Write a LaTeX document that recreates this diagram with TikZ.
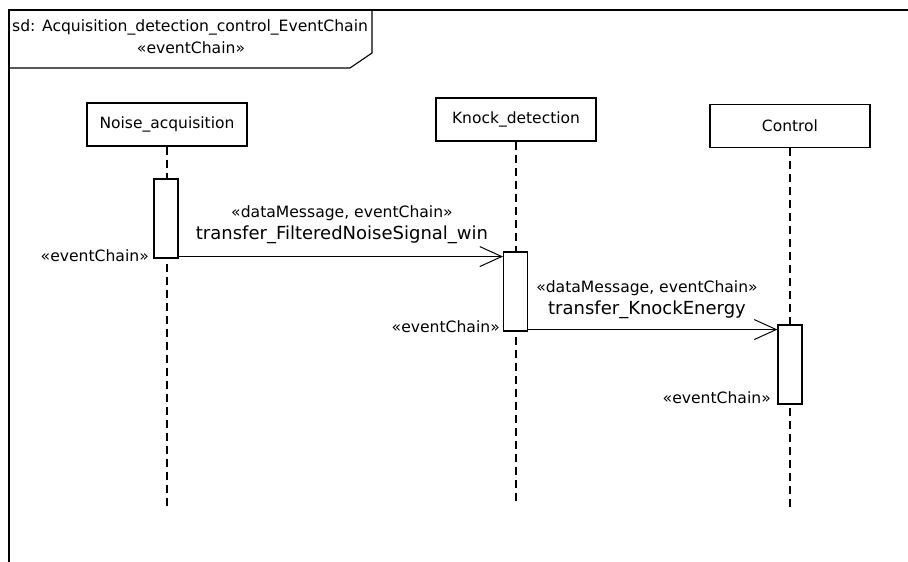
\documentclass[tikz,border=0pt]{standalone}
\usepackage{fontspec}
\setmainfont{DejaVu Sans}
\usetikzlibrary{arrows.meta, positioning, calc}

\begin{document}
\begin{tikzpicture}[x=1pt, y=-1pt,
    headbox/.style={draw, line width=1.1pt, minimum width=160pt, minimum height=43pt,
                    inner sep=0pt, font=\fontsize{15.5}{18}\selectfont},
    actbox/.style={draw, fill=white, line width=1.1pt, minimum width=24pt,
                   minimum height=79pt, inner sep=0pt},
    lifeline/.style={line width=1.2pt, dash pattern=on 8pt off 5pt},
    msg/.style={line width=1pt, -{Straight Barb[length=22pt, width=20pt, line width=1pt]}},
    stereo/.style={font=\fontsize{15.6}{18}\selectfont, inner sep=0pt},
    msgname/.style={font=\fontsize{18}{21}\selectfont, inner sep=0pt}]
  \useasboundingbox (0,0) rectangle (908,562);
  % frame with its title tab
  \draw[line width=1.1pt] (9,562) -- (9,10) -- (908,10);
  \draw[line width=1.1pt] (9,68) -- (350,68) -- (372,53) -- (372,10);
  \node[stereo, anchor=west] (title) at (12,27) {sd: Acquisition\_detection\_control\_EventChain};
  \node[stereo] (titlest) at (191,48) {«eventChain»};
  % lifeline heads
  \node[headbox] (noise) at (167,124.5) {Noise\_acquisition};
  \node[headbox] (knock) at (516,119.5) {Knock\_detection};
  \node[headbox] (control) at (790,126) {Control};
  % lifelines
  \coordinate (noiseEnd) at (167,507);
  \coordinate (knockEnd) at (516,502);
  \coordinate (controlEnd) at (790,508);
  \draw[lifeline] (noise.south) -- (noiseEnd);
  \draw[lifeline] (knock.south) -- (knockEnd);
  \draw[lifeline] (control.south) -- (controlEnd);
  % activations
  \node[actbox] (actNoise) at (166,218.5) {};
  \node[actbox] (actKnock) at (515.5,291.5) {};
  \node[actbox] (actControl) at (790,364.5) {};
  \node[stereo, anchor=east] (ecNoise) at (149,256) {«eventChain»};
  \node[stereo, anchor=east] (ecKnock) at (500,327) {«eventChain»};
  \node[stereo, anchor=east] (ecControl) at (771,398) {«eventChain»};
  % messages
  \coordinate (m1start) at ($(actNoise.south east)+(0,-2)$);
  \coordinate (m2start) at ($(actKnock.south east)+(0,-2)$);
  \draw[msg] (m1start) -- (m1start -| actKnock.west);
  \draw[msg] (m2start) -- (m2start -| actControl.west);
  \node[stereo] (m1st) at (342,213) {«dataMessage, eventChain»};
  \node[msgname] (m1name) at (342,235) {transfer\_FilteredNoiseSignal\_win};
  \node[stereo] (m2st) at (647,288) {«dataMessage, eventChain»};
  \node[msgname] (m2name) at (647,310) {transfer\_KnockEnergy};
\end{tikzpicture}
\end{document}
